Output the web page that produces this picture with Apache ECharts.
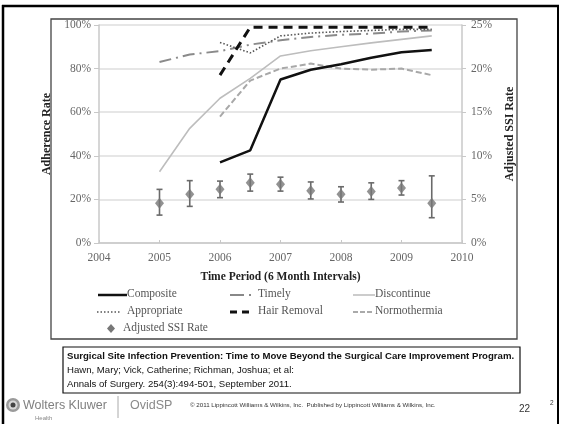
<!DOCTYPE html>
<html>
<head>
<meta charset="utf-8">
<script src="https://cdn.jsdelivr.net/npm/echarts@6/dist/echarts.min.js"></script>
<style>
  html, body { margin: 0; padding: 0; background: #fff; }
  #chart { width: 565px; height: 424px; }
</style>
</head>
<body>
<div id="chart"></div>
<script>
// Six-month periods (as fractional years)
const periods = [2005, 2005.5, 2006, 2006.5, 2007, 2007.5, 2008, 2008.5, 2009, 2009.5];

// Adherence rates (%), null where a measure was not reported
const composite    = [null, null, 37, 42.5, 75, 79.5, 82, 85, 87.5, 88.5];
const timely       = [83, 86.5, 88, 91, 93, 94.5, 95.5, 96, 97, 97.5];
const discontinue  = [32.7, 52.6, 66.4, 75.5, 85.8, 88.2, 90, 91.8, 93.4, 95];
const appropriate  = [null, null, 92, 87.2, 95, 96.3, 97, 97.5, 98, 98];
const hairRemoval  = [null, null, 77, 99, 99, 99, 99, 99, 99, 99];
const normothermia = [null, null, 58, 74.5, 80, 82.3, 80, 79.5, 80, 77];

// Adjusted SSI rate (%) with lower / upper interval bounds
const ssiRate  = [4.55, 5.6, 6.15, 6.9, 6.75, 6.0, 5.6, 5.9, 6.3, 4.55];
const ssiLower = [3.2, 4.2, 5.2, 5.95, 5.95, 5.05, 4.7, 5.0, 5.5, 2.9];
const ssiUpper = [6.15, 7.15, 7.1, 7.9, 7.55, 7.0, 6.45, 6.9, 7.15, 7.7];

// Axis ticks
const xTicks = [2004, 2005, 2006, 2007, 2008, 2009, 2010];
const leftTicks = [0, 20, 40, 60, 80, 100];
const rightTicks = [0, 5, 10, 15, 20, 25];

const SERIF = '"Liberation Serif", "DejaVu Serif", serif';
const SANS = '"Liberation Sans", Arial, sans-serif';

const pairs = vals => periods.map((p, i) => [p, vals[i]]);

const chart = echarts.init(document.getElementById('chart'), null, { renderer: 'canvas' });

function lineSeries(name, vals, color, width, type) {
  return {
    name, type: 'line', data: pairs(vals), yAxisIndex: 0,
    symbol: 'none', connectNulls: false, silent: true, z: 3,
    lineStyle: { color, width, type, cap: 'butt' }
  };
}

// Legend drawn as simple graphic items
const legendText = (x, y, text) => ({
  type: 'text', left: x, top: y - 7,
  style: { text, font: '11.5px ' + SERIF, fill: '#555' }
});
const legendLine = (x1, x2, y, stroke, lineWidth, lineDash) => ({
  type: 'line', shape: { x1, y1: y, x2, y2: y },
  style: { stroke, lineWidth, lineDash: lineDash || null }
});

const legend = [
  legendLine(98, 127, 295, '#111', 2.5),
  legendText(127, 295, 'Composite'),
  legendLine(230, 244, 295, '#888', 2),
  legendLine(249, 251, 295, '#888', 2),
  legendText(258, 295, 'Timely'),
  legendLine(353, 375, 295, '#bbb', 1.5),
  legendText(375, 295, 'Discontinue'),
  legendLine(97, 121, 312, '#555', 1.5, [1.5, 2]),
  legendText(127, 312, 'Appropriate'),
  legendLine(230, 249, 312, '#111', 3, [7, 5]),
  legendText(258, 312, 'Hair Removal'),
  legendLine(353, 372, 312, '#aaa', 2, [5, 2]),
  legendText(375, 312, 'Normothermia'),
  {
    type: 'polygon',
    shape: { points: [[111, 324], [115, 328.5], [111, 333], [107, 328.5]] },
    style: { fill: '#777' }
  },
  legendText(123, 329, 'Adjusted SSI Rate')
];

// Slide frame, citation box and footer
const slide = [
  { type: 'line', shape: { x1: 2, y1: 6, x2: 559, y2: 6 }, style: { stroke: '#000', lineWidth: 2.5 } },
  { type: 'line', shape: { x1: 3, y1: 5, x2: 3, y2: 424 }, style: { stroke: '#000', lineWidth: 2.5 } },
  { type: 'line', shape: { x1: 558, y1: 5, x2: 558, y2: 424 }, style: { stroke: '#000', lineWidth: 2 } },
  { type: 'rect', shape: { x: 51, y: 19, width: 466, height: 320 }, style: { fill: 'none', stroke: '#444', lineWidth: 1.3 }, z: -1 },
  { type: 'rect', shape: { x: 63, y: 347, width: 457, height: 46 }, style: { fill: '#fff', stroke: '#111', lineWidth: 1.2 } },
  { type: 'text', left: 67, top: 351, style: { text: 'Surgical Site Infection Prevention: Time to Move Beyond the Surgical Care Improvement Program.', font: 'bold 9.6px ' + SANS, fill: '#111' } },
  { type: 'text', left: 67, top: 365, style: { text: 'Hawn, Mary; Vick, Catherine; Richman, Joshua; et al:', font: '9.6px ' + SANS, fill: '#111' } },
  { type: 'text', left: 67, top: 379, style: { text: 'Annals of Surgery. 254(3):494-501, September 2011.', font: '9.6px ' + SANS, fill: '#111' } },
  // footer logo
  { type: 'circle', shape: { cx: 13, cy: 405, r: 7 }, style: { fill: '#9a9a9a' } },
  { type: 'circle', shape: { cx: 13, cy: 405, r: 4.5 }, style: { fill: '#d8d8d8' } },
  { type: 'circle', shape: { cx: 13, cy: 405, r: 2.5 }, style: { fill: '#444' } },
  { type: 'text', left: 23, top: 399, style: { text: 'Wolters Kluwer', font: '12.5px ' + SANS, fill: '#808080' } },
  { type: 'text', left: 35, top: 415, style: { text: 'Health', font: '6px ' + SANS, fill: '#888' } },
  { type: 'line', shape: { x1: 118, y1: 396, x2: 118, y2: 418 }, style: { stroke: '#aaa', lineWidth: 1 } },
  { type: 'text', left: 130, top: 399, style: { text: 'OvidSP', font: '12.5px ' + SANS, fill: '#8a8a8a' } },
  { type: 'text', left: 190, top: 402, style: { text: '\u00a9 2011 Lippincott Williams & Wilkins, Inc.  Published by Lippincott Williams & Wilkins, Inc.', font: '6.2px ' + SANS, fill: '#333' } },
  { type: 'text', left: 519, top: 404, style: { text: '22', font: '10px ' + SANS, fill: '#333' } },
  { type: 'text', left: 550, top: 400, style: { text: '2', font: '6.5px ' + SANS, fill: '#333' } }
];

const axisLabelStyle = { fontFamily: SERIF, fontSize: 11.5, color: '#666' };

const option = {
  backgroundColor: '#fff',
  animation: false,
  grid: { left: 99, right: 103, top: 25, bottom: 181, containLabel: false },
  xAxis: {
    type: 'value', min: xTicks[0], max: xTicks[xTicks.length - 1], interval: 1,
    name: 'Time Period (6 Month Intervals)', nameLocation: 'middle', nameGap: 28,
    nameTextStyle: { fontFamily: SERIF, fontSize: 11.5, fontWeight: 'bold', color: '#222' },
    axisLine: { lineStyle: { color: '#c8c8c8', width: 1.5 } },
    axisTick: { inside: true, length: 3, lineStyle: { color: '#c8c8c8' } },
    axisLabel: { ...axisLabelStyle, margin: 9, formatter: v => String(v) },
    splitLine: { show: false }
  },
  yAxis: [
    {
      type: 'value', min: leftTicks[0], max: leftTicks[leftTicks.length - 1], interval: 20,
      position: 'left',
      name: 'Adherence Rate', nameLocation: 'middle', nameGap: 39, nameRotate: 90,
      nameTextStyle: { fontFamily: SERIF, fontSize: 12, fontWeight: 'bold', color: '#222' },
      axisLine: { show: true, lineStyle: { color: '#c8c8c8', width: 1.5 } },
      axisTick: { show: true, length: 5, lineStyle: { color: '#c8c8c8' } },
      axisLabel: { ...axisLabelStyle, margin: 8, formatter: '{value}%' },
      splitLine: { show: true, lineStyle: { color: '#dedede', width: 1.5 } }
    },
    {
      type: 'value', min: rightTicks[0], max: rightTicks[rightTicks.length - 1], interval: 5,
      position: 'right',
      name: 'Adjusted SSI Rate', nameLocation: 'middle', nameGap: 42, nameRotate: 90,
      nameTextStyle: { fontFamily: SERIF, fontSize: 12, fontWeight: 'bold', color: '#222' },
      axisLine: { show: true, lineStyle: { color: '#c8c8c8', width: 1.5 } },
      axisTick: { show: true, length: 4, lineStyle: { color: '#c8c8c8' } },
      axisLabel: { ...axisLabelStyle, margin: 9, formatter: '{value}%' },
      splitLine: { show: false }
    }
  ],
  series: [
    lineSeries('Discontinue', discontinue, '#bdbdbd', 1.6, 'solid'),
    lineSeries('Normothermia', normothermia, '#a8a8a8', 2, [6, 3]),
    lineSeries('Timely', timely, '#8a8a8a', 2, [12, 5, 2, 5]),
    lineSeries('Appropriate', appropriate, '#555', 1.6, [1.5, 2]),
    lineSeries('Composite', composite, '#111', 2.5, 'solid'),
    lineSeries('Hair Removal', hairRemoval, '#111', 3, [9, 6]),
    {
      name: 'SSI interval', type: 'custom', yAxisIndex: 1, silent: true, z: 4,
      data: periods.map((p, i) => [p, ssiLower[i], ssiUpper[i]]),
      renderItem: (params, api) => {
        const lo = api.coord([api.value(0), api.value(1)]);
        const hi = api.coord([api.value(0), api.value(2)]);
        const w = 3;
        const st = { stroke: '#6a6a6a', lineWidth: 1.6 };
        return {
          type: 'group',
          children: [
            { type: 'line', shape: { x1: lo[0], y1: lo[1], x2: hi[0], y2: hi[1] }, style: st },
            { type: 'line', shape: { x1: lo[0] - w, y1: lo[1], x2: lo[0] + w, y2: lo[1] }, style: st },
            { type: 'line', shape: { x1: hi[0] - w, y1: hi[1], x2: hi[0] + w, y2: hi[1] }, style: st }
          ]
        };
      }
    },
    {
      name: 'Adjusted SSI Rate', type: 'scatter', yAxisIndex: 1, silent: true, z: 5,
      data: pairs(ssiRate), symbol: 'diamond', symbolSize: [9, 11],
      itemStyle: { color: '#777' }
    }
  ],
  graphic: { elements: [...slide, ...legend] }
};

chart.setOption(option);
</script>
</body>
</html>
